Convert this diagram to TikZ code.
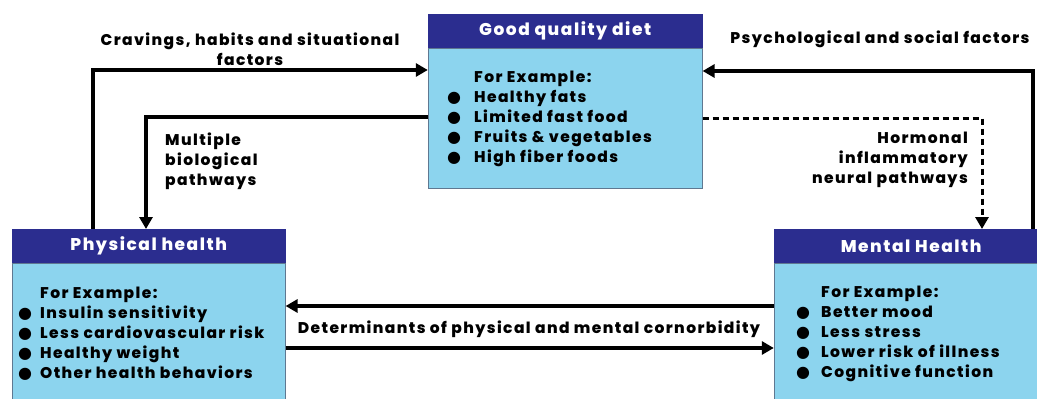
\documentclass[tikz,border=0pt]{standalone}
\usepackage{fontspec}
\setmainfont{Poppins}[BoldFont={Poppins ExtraBold}, LetterSpace=9]
\newfontfamily\dotfont{DejaVu Sans}
\usetikzlibrary{arrows.meta}

\definecolor{headblue}{RGB}{43,45,143}
\definecolor{bodyblue}{RGB}{140,212,238}
\definecolor{edgegray}{RGB}{95,120,145}

\newlength{\bulgap}
\newcommand{\bul}{\llap{{\dotfont\fontsize{16}{16}\selectfont ●}\hspace{\bulgap}}}
\newcommand{\exlist}[1]{\begin{tabular}[t]{@{}l@{}}For Example:\\#1\end{tabular}}
\newcommand{\lines}[2]{\begin{tabular}[t]{@{}#1@{}}#2\end{tabular}}

\tikzset{
  headbox/.style={draw=headblue, fill=headblue, text=white, font=\bfseries\fontsize{17}{17}\selectfont,
    minimum height=34pt, inner sep=0pt, anchor=north west},
  bodybox/.style={draw=edgegray, line width=0.8pt, fill=bodyblue, inner sep=0pt, anchor=north},
  listtext/.style={font=\bfseries\fontsize{15.5}{20}\selectfont, inner sep=0pt, anchor=base west},
  lbl/.style={font=\bfseries\fontsize{15.5}{20}\selectfont, inner sep=0pt, anchor=base},
  flow/.style={line width=3.4pt, -{Triangle[length=12pt,width=13pt]}},
}

\begin{document}
\begin{tikzpicture}[x=1pt,y=1pt]
    \useasboundingbox (0,0) rectangle (1037,-399);
    % boxes
    \node [headbox, minimum width=274pt] (dietHead) at (428,-14) {Good quality diet};
    \node [bodybox, minimum width=274pt, minimum height=140pt] (dietBody) at (dietHead.south) {};
    \node [headbox, minimum width=273pt] (physHead) at (12,-229) {Physical health};
    \node [bodybox, minimum width=273pt, minimum height=145pt] (physBody) at (physHead.south) {};
    \node [headbox, minimum width=274pt] (mentHead) at (774,-229) {Mental Health};
    \node [bodybox, minimum width=274pt, minimum height=145pt] (mentBody) at (mentHead.south) {};
    % lists
    \node [listtext] (dietList) at (474,-82) {\setlength{\bulgap}{13pt}\exlist{
        \bul Healthy fats\\ \bul Limited fast food\\ \bul Fruits \& vegetables\\ \bul High fiber foods}};
    \node [listtext] (physList) at (40,-298) {\setlength{\bulgap}{8pt}\exlist{
        \bul Insulin sensitivity\\ \bul Less cardiovascular risk\\ \bul Healthy weight\\ \bul Other health behaviors}};
    \node [listtext] (mentList) at (821,-297) {\setlength{\bulgap}{11pt}\exlist{
        \bul Better mood\\ \bul Less stress\\ \bul Lower risk of illness\\ \bul Cognitive function}};
    % turning points
    \coordinate (cravTurn) at (93,-70);
    \coordinate (bioTurn) at (146,-117);
    \coordinate (psyTurn) at (1033,-71);
    \coordinate (horTurn) at (982,-118);
    \coordinate (detTop) at (529,-306);
    \coordinate (detBot) at (529,-348);
    % connectors
    \draw [flow] (physHead.north -| cravTurn) -- (cravTurn) -- (dietBody.west |- cravTurn);
    \draw [flow] (dietBody.west |- bioTurn) -- (bioTurn) -- (physHead.north -| bioTurn);
    \draw [flow] (mentHead.north -| psyTurn) -- (psyTurn) -- (dietBody.east |- psyTurn);
    \draw [flow, line width=3pt, dash pattern=on 6pt off 4pt] (dietBody.east |- horTurn) -- (horTurn) -- (mentHead.north -| horTurn);
    \draw [flow] (mentBody.west |- detTop) -- (physBody.east |- detTop);
    \draw [flow] (physBody.east |- detBot) -- (mentBody.west |- detBot);
    % labels
    \node [lbl] (cravLbl) at (250,-45) {\lines{c}{Cravings, habits and situational\\factors}};
    \node [lbl, anchor=base west] (bioLbl) at (165,-145) {\lines{l}{Multiple\\biological\\pathways}};
    \node [lbl] (psyLbl) at (880,-43) {Psychological and social factors};
    \node [lbl, anchor=base east] (horLbl) at (968,-143) {\lines{r}{Hormonal\\inflammatory\\neural pathways}};
    \node [lbl] (detLbl) at (529,-333) {Determinants of physical and mental cornorbidity};
\end{tikzpicture}
\end{document}
